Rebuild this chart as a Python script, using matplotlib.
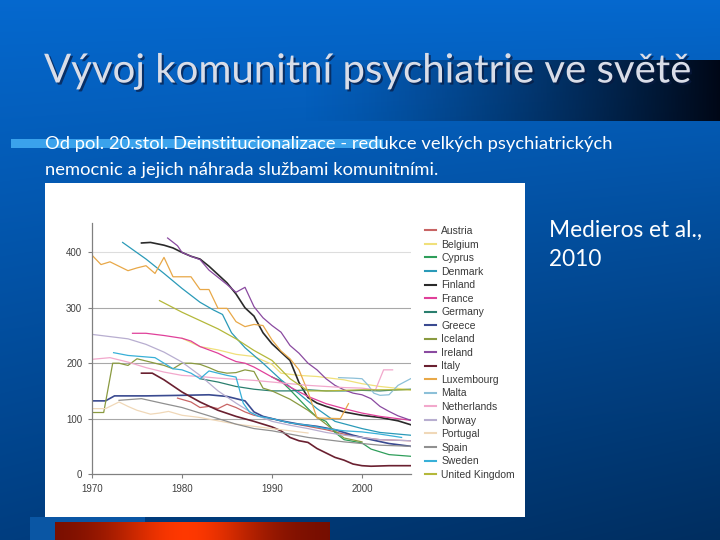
import numpy as np
import matplotlib
matplotlib.use("Agg")
import matplotlib.pyplot as plt
import matplotlib.patheffects as pe
from matplotlib.patches import Rectangle

# ---- data (psychiatric beds per 100 000) ----
austria_years = [1979.5, 1981, 1982, 1983, 1984, 1985, 1986, 1987, 1988, 1990, 1992, 1994, 1996, 1998, 2000, 2002, 2005.4]
austria_vals = [137, 130, 120, 122, 118, 126, 120, 112, 106, 100, 92, 86, 80, 72, 66, 62, 60]

belgium_years = [1980, 1982, 1984, 1986, 1988, 1990, 1991, 1993, 1995, 1998, 2000, 2002, 2005.4]
belgium_vals = [245, 230, 224, 216, 212, 198, 182, 178, 176, 170, 163, 158, 152]

cyprus_years = [1990, 1991, 1992, 1993, 1994, 1995, 1996, 1997, 1998, 2000, 2001, 2002, 2003, 2005.4]
cyprus_vals = [175, 168, 152, 135, 118, 102, 95, 75, 62, 56, 45, 40, 35, 32]

denmark_years = [1973.4, 1976, 1978, 1980, 1982, 1983.5, 1984.5, 1985.5, 1987, 1989, 1991, 1993, 1995, 1997, 2000, 2002, 2005.4]
denmark_vals = [418, 388, 362, 335, 310, 296, 288, 255, 228, 200, 170, 145, 118, 95, 82, 75, 70]

finland_years = [1975.5, 1976.5, 1978, 1979, 1980, 1981, 1982, 1983, 1984, 1985, 1986, 1987, 1988, 1989,
                 1990, 1991, 1992, 1993, 1994, 1995, 1996, 1998, 2000, 2002, 2004, 2005.4]
finland_vals = [417, 418, 413, 408, 400, 393, 388, 375, 360, 345, 325, 300, 285, 255,
                235, 220, 205, 165, 138, 128, 122, 112, 106, 102, 96, 89]

france_years = [1974.5, 1976, 1978, 1980, 1981, 1982, 1984, 1985, 1986, 1987, 1988, 1989, 1990, 1992, 1994, 1996, 1998, 2000, 2002, 2005.4]
france_vals = [254, 254, 250, 245, 240, 230, 218, 210, 203, 200, 193, 184, 175, 157, 140, 127, 118, 110, 104, 97]

germany_years = [1982, 1984, 1986, 1988, 1990, 1992, 1994, 1996, 1998, 2000, 2002, 2004, 2005.4]
germany_vals = [172, 166, 158, 153, 150, 150, 152, 150, 150, 151, 150, 152, 153]

greece_years = [1970, 1971.5, 1972.5, 1976, 1980, 1983, 1985, 1987, 1988, 1989, 1991, 1993, 1995, 1997, 1999, 2001, 2003, 2005.4]
greece_vals = [132, 132, 141, 141, 142, 143, 140, 132, 112, 104, 96, 90, 86, 80, 70, 62, 55, 50]

iceland_years = [1970, 1971.3, 1972.3, 1973, 1974, 1975, 1976, 1977, 1978, 1979, 1980, 1981, 1982, 1983,
                 1984, 1985, 1986, 1987, 1988, 1989, 1990, 1992, 1994, 1996, 1998, 2000]
iceland_vals = [111, 111, 200, 200, 196, 208, 204, 200, 196, 190, 200, 200, 198, 192,
                185, 182, 183, 188, 185, 155, 150, 135, 115, 90, 65, 58]

ireland_years = [1978.4, 1979.5, 1980, 1981, 1982, 1983, 1984, 1985, 1986, 1987, 1988, 1989, 1990, 1991,
                 1992, 1993, 1994, 1995, 1996, 1997, 1998, 1999, 2000, 2001, 2002, 2003, 2004, 2005.4]
ireland_vals = [426, 412, 400, 393, 387, 368, 355, 342, 328, 337, 302, 282, 268, 256,
                232, 218, 200, 188, 172, 160, 152, 146, 143, 136, 122, 113, 105, 97]

italy_years = [1975.5, 1976.7, 1978, 1980, 1982, 1984, 1986, 1988, 1990, 1991, 1992, 1993, 1994, 1995,
               1996, 1997, 1998, 1999, 2000, 2001, 2003, 2005.4]
italy_vals = [182, 182, 170, 148, 130, 115, 104, 95, 85, 78, 66, 60, 57, 46, 38, 30, 25, 18, 15, 14, 15, 15]

luxembourg_years = [1970, 1971, 1972, 1973, 1974, 1975, 1976, 1977, 1978, 1979, 1980, 1981, 1982, 1983,
                    1984, 1985, 1986, 1987, 1988, 1989, 1990, 1991, 1992, 1993, 1994, 1995, 1997.6, 1998.5]
luxembourg_vals = [395, 378, 383, 375, 367, 372, 376, 362, 391, 356, 356, 356, 333, 333,
                   299, 299, 275, 266, 270, 268, 242, 222, 208, 188, 148, 101, 100, 127]

malta_years = [1997.4, 1999, 2000, 2000.7, 2001.3, 2002, 2003, 2004, 2005.4]
malta_vals = [174, 173, 172, 160, 146, 142, 143, 160, 172]

netherlands_years = [1970, 1972, 1974, 1976, 1978, 1980, 1982, 1984, 1986, 1988, 1990, 1992, 1994, 1996,
                     1998, 2000, 2001.5, 2002.4, 2003.4]
netherlands_vals = [207, 210, 202, 192, 184, 178, 176, 173, 171, 169, 166, 163, 160, 158,
                    156, 155, 152, 188, 188]

norway_years = [1970, 1972, 1974, 1976, 1978, 1980, 1982, 1984, 1986, 1988, 1990, 1992, 1994, 1996, 1998, 2000, 2002, 2005.4]
norway_vals = [252, 248, 244, 234, 220, 202, 178, 150, 128, 108, 95, 88, 82, 75, 70, 66, 62, 60]

portugal_years = [1970, 1971.5, 1973, 1974, 1975, 1976.5, 1977.5, 1978.5, 1980, 1982, 1984, 1986, 1988, 1990, 1992, 1994]
portugal_vals = [118, 118, 130, 122, 115, 108, 110, 113, 106, 102, 96, 90, 86, 82, 78, 74]

spain_years = [1973, 1975.5, 1978, 1980, 1982, 1984, 1986, 1988, 1990, 1992, 1994, 1996, 1998, 2000, 2002, 2005.4]
spain_vals = [133, 136, 127, 120, 110, 100, 90, 82, 78, 72, 66, 62, 58, 55, 52, 50]

sweden_years = [1972.4, 1974, 1975.5, 1977, 1978, 1979, 1980, 1981, 1982, 1983, 1984, 1985, 1986, 1986.8,
                1987.5, 1988.5, 1990, 1992, 1994, 1996, 1998, 2000, 2002, 2004.4]
sweden_vals = [219, 214, 212, 210, 200, 190, 188, 182, 172, 186, 182, 178, 175, 128,
               112, 104, 100, 92, 88, 82, 78, 76, 72, 66]

uk_years = [1977.5, 1980, 1982, 1984, 1986, 1988, 1990, 1992, 1994, 1996, 2000, 2005.4]
uk_vals = [313, 292, 277, 262, 244, 223, 205, 172, 150, 150, 152, 152]

countries = ["Austria", "Belgium", "Cyprus", "Denmark", "Finland", "France", "Germany", "Greece",
             "Iceland", "Ireland", "Italy", "Luxembourg", "Malta", "Netherlands", "Norway",
             "Portugal", "Spain", "Sweden", "United Kingdom"]
series = [(austria_years, austria_vals), (belgium_years, belgium_vals), (cyprus_years, cyprus_vals),
          (denmark_years, denmark_vals), (finland_years, finland_vals), (france_years, france_vals),
          (germany_years, germany_vals), (greece_years, greece_vals), (iceland_years, iceland_vals),
          (ireland_years, ireland_vals), (italy_years, italy_vals), (luxembourg_years, luxembourg_vals),
          (malta_years, malta_vals), (netherlands_years, netherlands_vals), (norway_years, norway_vals),
          (portugal_years, portugal_vals), (spain_years, spain_vals), (sweden_years, sweden_vals),
          (uk_years, uk_vals)]
colors = ["#c86464", "#f0e07a", "#2e9e5a", "#2a9ab8", "#2a2a2a", "#e0409a", "#2a7e6e", "#3a4a90",
          "#8a9a40", "#8a4aa0", "#6a2030", "#e8a848", "#8cc0d8", "#f2a8cc", "#b8aed0",
          "#f0d8b8", "#909090", "#38b0d8", "#b4b83a"]

year_ticks = [1970, 1980, 1990, 2000]
value_ticks = [0, 100, 200, 300, 400]

W, H = 720, 540
fig = plt.figure(figsize=(7.2, 5.4), dpi=100)

# ---- slide background ----
bg = fig.add_axes([0, 0, 1, 1])
bg.set_xlim(0, W)
bg.set_ylim(H, 0)
bg.axis("off")

yy, xx = np.mgrid[0:H, 0:W]
t = yy / H
s = xx / W
top = np.array([0.02, 0.41, 0.81])
bottom = np.array([0.0, 0.24, 0.50])
img = top[None, None, :] * (1 - t[..., None]) + bottom[None, None, :] * t[..., None]
img = img * (1 - 0.25 * (t * s)[..., None])
bg.imshow(img, extent=(0, W, H, 0), aspect="auto", zorder=0)

# dark title band fading to the right
band = np.zeros((2, 420, 4))
ramp = np.linspace(0, 1, 420) ** 1.3
band[..., 1] = 0.03
band[..., 2] = 0.09
band[..., 3] = ramp[None, :]
bg.imshow(band, extent=(300, 720, 121, 60), aspect="auto", zorder=1)

# light strip behind the first bullet line
bg.add_patch(Rectangle((11, 139), 372, 9, color="#3aa2ec", zorder=2, lw=0))

# lighter strip and red bar at the bottom
bg.add_patch(Rectangle((30, 517), 115, 23, color="#0a56a4", zorder=1, lw=0))
red = np.linspace(-1, 1, 275)
red_w = np.exp(-((red + 0.05) / 0.55) ** 2)
red_img = np.zeros((2, 275, 3))
red_img[..., 0] = 0.45 + 0.55 * red_w
red_img[..., 1] = 0.05 + 0.17 * red_w
bg.imshow(red_img, extent=(55, 330, 540, 522), aspect="auto", zorder=2)

# white picture frame
bg.add_patch(Rectangle((45, 183), 480, 334, color="white", zorder=3, lw=0))

title_font = ["Lato", "DejaVu Sans"]
bg.text(44, 71, "Vývoj komunitní psychiatrie ve světě", fontsize=28.9, color="#d9dde8",
        family=title_font, va="center", ha="left", zorder=4,
        path_effects=[pe.withSimplePatchShadow(offset=(1.5, -1.5), shadow_rgbFace="#0a1a40", alpha=0.7)])
bg.text(45, 144, "Od pol. 20.stol. Deinstitucionalizace - redukce velkých psychiatrických",
        fontsize=13.2, color="white", family=title_font, va="center", ha="left", zorder=4)
bg.text(45, 170, "nemocnic a jejich náhrada službami komunitními.",
        fontsize=13.2, color="white", family=title_font, va="center", ha="left", zorder=4)
bg.text(549, 230, "Medieros et al.,", fontsize=16.3, color="white", family=title_font,
        va="center", ha="left", zorder=4)
bg.text(549, 259, "2010", fontsize=16.3, color="white", family=title_font,
        va="center", ha="left", zorder=4)

# ---- the chart ----
x0, x1, y0, y1 = 92, 411, 474, 223
ax = fig.add_axes([x0 / W, 1 - y0 / H, (x1 - x0) / W, (y0 - y1) / H])
ax.set_facecolor("none")
ax.set_xlim(1970, 1970 + (x1 - x0) / 9.0)
ax.set_ylim(0, (y0 - y1) / 0.554)

for v in value_ticks[1:]:
    ax.axhline(v, color="#dddddd" if v == 400 else "#a8a8a8", lw=0.8, zorder=1)

for name, (yrs, vals), c in zip(countries, series, colors):
    lw = 1.2 if name in ("Finland", "Greece", "Italy") else 0.9
    ax.plot(yrs, vals, color=c, lw=lw, label=name, zorder=2)

for side in ("top", "right"):
    ax.spines[side].set_visible(False)
for side in ("left", "bottom"):
    ax.spines[side].set_color("#808080")
    ax.spines[side].set_linewidth(0.9)
ax.set_xticks(year_ticks)
ax.set_yticks(value_ticks)
ax.tick_params(length=3, width=0.8, color="#808080", labelsize=7, labelcolor="#404040", pad=4)
for lab in ax.get_xticklabels() + ax.get_yticklabels():
    lab.set_family(["Liberation Sans", "DejaVu Sans"])

leg = ax.legend(loc="upper left", bbox_to_anchor=(425 / W, 1 - 226 / H),
                bbox_transform=fig.transFigure, frameon=False, borderpad=0, borderaxespad=0,
                handlelength=1.05, handletextpad=0.5, labelspacing=0.34,
                prop={"family": ["Liberation Sans", "DejaVu Sans"], "size": 7.5})
for txt in leg.get_texts():
    txt.set_color("#3a3a3a")
for line in leg.get_lines():
    line.set_linewidth(1.5)

fig.savefig("out.png", dpi=100)
